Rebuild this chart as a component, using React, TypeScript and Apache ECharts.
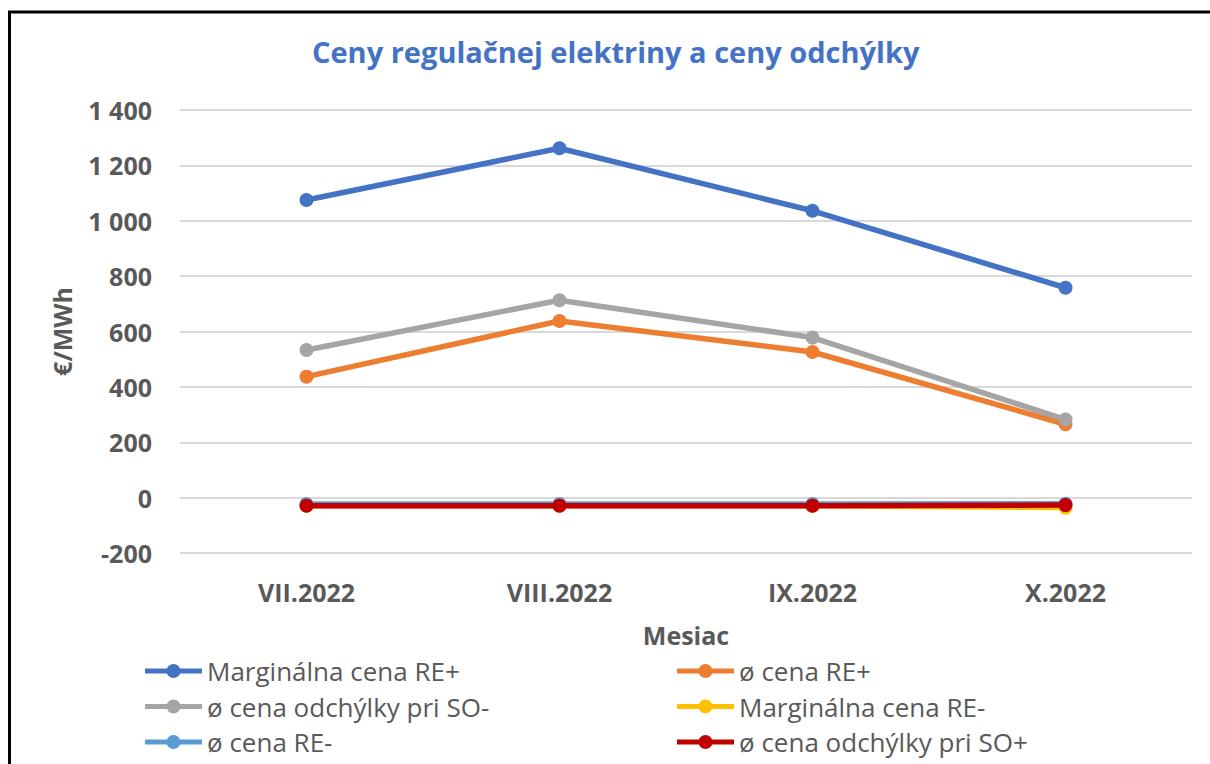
import React, { useEffect, useRef } from "react";
import * as echarts from "echarts";

const categories = ["VII.2022", "VIII.2022", "IX.2022", "X.2022"];
const seriesNames = [
  "Marginálna cena RE+",
  "ø cena RE+",
  "ø cena odchýlky pri SO-",
  "Marginálna cena RE-",
  "ø cena RE-",
  "ø cena odchýlky pri SO+",
];
const margRePlus = [1075, 1262, 1036, 758];
const avgRePlus = [437, 638, 526, 265];
const avgDevSoMinus = [533, 713, 578, 282];
const margReMinus = [-29, -29, -29, -36];
const avgReMinus = [-23, -23, -23, -22];
const avgDevSoPlus = [-29, -29, -29, -27];
const seriesValues = [margRePlus, avgRePlus, avgDevSoMinus, margReMinus, avgReMinus, avgDevSoPlus];
const colors = ["#4472C4", "#ED7D31", "#A5A5A5", "#FFC000", "#5B9BD5", "#C00000"];
const yTicks = { min: -200, max: 1400, interval: 200 };

const FONT = "'Open Sans', Lato, sans-serif";
const LEGEND_ICON = "path://M0,4.5H57V9.5H0Z M21.5,7A7,7 0 1,1 35.5,7A7,7 0 1,1 21.5,7Z";

export default function App() {
  const ref = useRef<HTMLDivElement>(null);
  useEffect(() => {
    if (!ref.current) return;
    const chart = echarts.init(ref.current, undefined, { renderer: "svg" });
    const legendCommon = {
      orient: "vertical" as const,
      top: 657,
      padding: 0,
      itemGap: 7.5,
      itemWidth: 57,
      itemHeight: 14,
      icon: LEGEND_ICON,
      textStyle: { color: "#595959", fontSize: 26, lineHeight: 28, fontFamily: FONT },
    };
    chart.setOption({
      animation: false,
      backgroundColor: "#ffffff",
      color: colors,
      title: {
        text: "Ceny regulačnej elektriny a ceny odchýlky",
        left: 312,
        top: 37,
        padding: 0,
        textStyle: { color: "#4472C4", fontSize: 29, fontWeight: "bold", fontFamily: FONT },
      },
      grid: { left: 180, right: 18, top: 110, bottom: 211, containLabel: false },
      legend: [
        { ...legendCommon, left: 145, data: [seriesNames[0], seriesNames[2], seriesNames[4]] },
        { ...legendCommon, left: 677, data: [seriesNames[1], seriesNames[3], seriesNames[5]] },
      ],
      xAxis: {
        type: "category",
        data: categories,
        boundaryGap: true,
        name: "Mesiac",
        nameLocation: "middle",
        nameGap: 69,
        nameTextStyle: { color: "#595959", fontSize: 25, fontWeight: "bold", fontFamily: FONT },
        axisLine: { show: false, onZero: false },
        axisTick: { show: false },
        axisLabel: { color: "#595959", fontSize: 25, fontWeight: "bold", fontFamily: FONT, margin: 26 },
        splitLine: { show: false },
      },
      yAxis: {
        type: "value",
        min: yTicks.min,
        max: yTicks.max,
        interval: yTicks.interval,
        name: "€/MWh",
        nameLocation: "middle",
        nameGap: 106,
        nameRotate: 90,
        nameTextStyle: { color: "#595959", fontSize: 25, fontWeight: "bold", fontFamily: FONT },
        axisLine: { show: false },
        axisTick: { show: false },
        axisLabel: {
          color: "#595959",
          fontSize: 25,
          fontWeight: "bold",
          fontFamily: FONT,
          margin: 28,
          formatter: (v: number) => {
            const s = Math.abs(v).toString().replace(/\B(?=(\d{3})+(?!\d))/g, " ");
            return (v < 0 ? "-" : "") + s;
          },
        },
        splitLine: { lineStyle: { color: "#D9D9D9", width: 2 } },
      },
      series: seriesNames.map((name, i) => ({
        name,
        type: "line",
        data: seriesValues[i],
        symbol: "circle",
        symbolSize: 14,
        lineStyle: { width: 5.5, color: colors[i] },
        itemStyle: { color: colors[i] },
        z: 2 + i,
      })),
      graphic: [
        { type: "line", shape: { x1: 9.5, y1: 11, x2: 9.5, y2: 764 }, style: { stroke: "#000", lineWidth: 3 } },
        { type: "line", shape: { x1: 8, y1: 12, x2: 1210, y2: 12 }, style: { stroke: "#000", lineWidth: 3 } },
      ],
    });
    return () => chart.dispose();
  }, []);
  return (
    <div
      ref={ref}
      style={{ position: "absolute", left: 0, top: 0, width: 1210, height: 764, background: "#fff" }}
    />
  );
}
